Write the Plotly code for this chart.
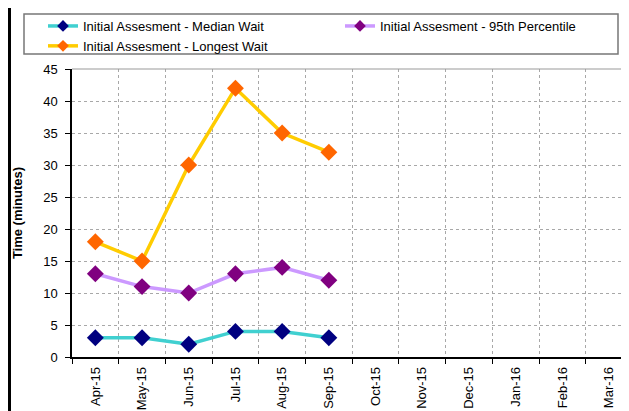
import plotly.graph_objects as go

months = ["Apr-15", "May-15", "Jun-15", "Jul-15", "Aug-15", "Sep-15",
          "Oct-15", "Nov-15", "Dec-15", "Jan-16", "Feb-16", "Mar-16"]
median_wait = [3, 3, 2, 4, 4, 3]
pct95_wait = [13, 11, 10, 13, 14, 12]
longest_wait = [18, 15, 30, 42, 35, 32]

# The page body adds an 8px margin, so the figure is 8px smaller and all
# page positions are expressed minus 8.
OFF = 8
W, H = 629 - OFF, 411 - OFF
L, R, T, B = 72 - OFF, 0, 69 - OFF, 54
PW = W - L - R
PH = H - T - B

def px_x(p):
    return (p - OFF - L) / PW

def px_y(p):
    return (H - B - (p - OFF)) / PH

fig = go.Figure()
series = [
    ("Initial Assesment - Median Wait", median_wait, "#40D0D0", "#000080"),
    ("Initial Assesment - 95th Percentile", pct95_wait, "#CC99FF", "#800080"),
    ("Initial Assesment - Longest Wait", longest_wait, "#FFCC00", "#FF6600"),
]
for i, (name, vals, lc, mc) in enumerate(series):
    fig.add_trace(go.Scatter(
        x=months[:len(vals)], y=vals, name=name, mode="lines+markers",
        line=dict(color=lc, width=3.5),
        marker=dict(symbol="diamond", size=13, color=mc),
        showlegend=False, legendgroup=f"g{i}",
    ))
# legend entries (smaller legend symbols, as in the original)
for i, (name, vals, lc, mc) in enumerate(series):
    fig.add_trace(go.Scatter(
        x=[None], y=[None], name=name, mode="lines+markers",
        line=dict(color=lc, width=3.5),
        marker=dict(symbol="diamond", size=9, color=mc),
        showlegend=True, legendgroup=f"g{i}",
    ))

fig.update_layout(
    width=W, height=H,
    margin=dict(l=L, r=R, t=T, b=B, autoexpand=False),
    paper_bgcolor="white", plot_bgcolor="white",
    font=dict(family="Liberation Sans, Arial", size=13, color="#000000"),
    showlegend=True,
    legend=dict(
        orientation="h",
        x=px_x(43), y=px_y(11), xanchor="left", yanchor="top",
        entrywidth=252, entrywidthmode="pixels", traceorder="normal",
        bgcolor="rgba(0,0,0,0)", borderwidth=0,
        font=dict(size=13), itemwidth=30, tracegroupgap=0,
    ),
    xaxis=dict(
        type="category", categoryorder="array", categoryarray=months,
        tickvals=months, ticktext=months,
        range=[-0.5, -0.5 + PW / 46.7],
        tickson="boundaries", ticks="outside", ticklen=5, tickcolor="#000",
        tickangle=-90, automargin=False, ticklabelstandoff=3,
        showgrid=True, gridcolor="#A8A8A8", griddash="dot", gridwidth=1,
        showline=True, linecolor="#000000", linewidth=1.5,
        zeroline=False, tickfont=dict(size=13),
    ),
    yaxis=dict(
        range=[0, 45], dtick=5, tick0=0, automargin=False,
        ticks="outside", ticklen=5, tickcolor="#000", ticklabelstandoff=5,
        showgrid=True, gridcolor="#A8A8A8", griddash="dot", gridwidth=1,
        showline=True, linecolor="#000000", linewidth=1.5,
        zeroline=False, tickfont=dict(size=13),
        title=dict(text="<b>Time (minutes)</b>", font=dict(size=13), standoff=18),
    ),
    shapes=[
        dict(type="rect", xref="paper", yref="paper",
             x0=px_x(24), x1=px_x(618), y0=px_y(14), y1=px_y(54),
             line=dict(color="#777777", width=1.5), fillcolor="rgba(0,0,0,0)"),
        dict(type="line", xref="paper", yref="paper",
             x0=0, x1=1, y0=1, y1=1,
             line=dict(color="#999999", width=1)),
        dict(type="rect", xref="paper", yref="paper",
             x0=px_x(8), x1=px_x(11), y0=px_y(8), y1=px_y(411),
             line=dict(width=0), fillcolor="#000000"),
    ],
)

fig.write_html("out.html")
